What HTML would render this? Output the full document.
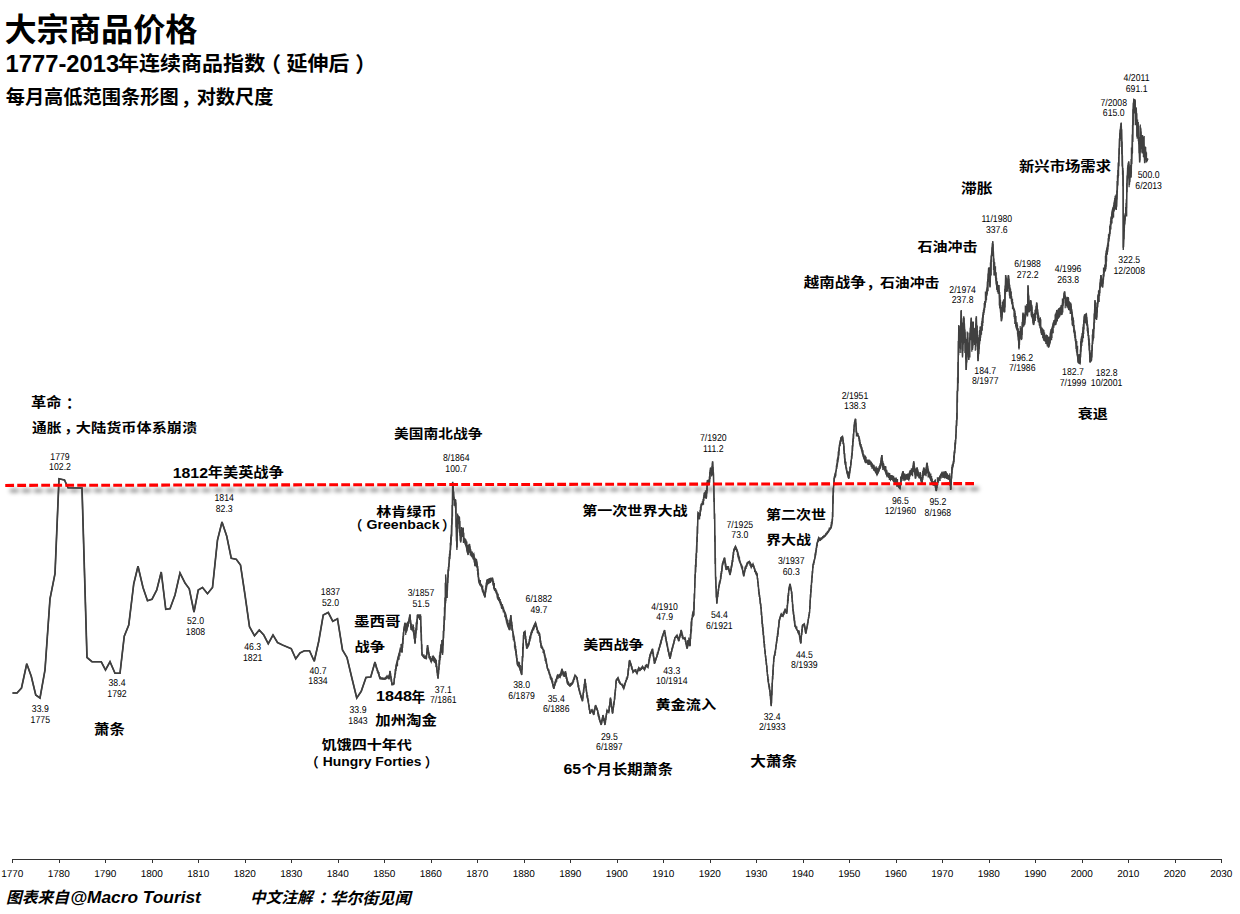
<!DOCTYPE html><html lang="zh"><head><meta charset="utf-8"><title>大宗商品价格</title><style>html,body{margin:0;padding:0;background:#fff}body{width:1240px;height:914px;position:relative;overflow:hidden}</style></head><body><svg width="1240" height="914" viewBox="0 0 1240 914" style="position:absolute;left:0;top:0">
<defs><filter id="sh" filterUnits="userSpaceOnUse" x="0" y="470" width="1000" height="40"><feGaussianBlur stdDeviation="1.9"/></filter></defs>
<line x1="9.95" y1="490.6" x2="978.7" y2="488.8" stroke="#000" stroke-opacity="0.5" stroke-width="3.2" stroke-dasharray="8.8 3.2" filter="url(#sh)"/>
<polyline points="12.5,693.0 17.0,693.0 21.5,688.0 26.75,663.75 31.25,676.25 35.75,695.0 40.0,698.0 45.0,670.0 50.0,598.75 55.0,573.75 59.0,478.75 64.5,480.0 68.0,487.75 82.0,488.0 87.0,657.5 92.0,661.75 101.25,661.75 105.5,670.0 110.0,661.75 115.0,673.25 120.0,673.25 124.25,636.25 128.75,625.0 133.75,583.75 138.0,566.25 143.0,587.5 147.5,600.75 152.0,599.25 156.75,590.0 161.25,572.0 165.75,609.25 170.0,608.75 175.0,595.0 180.0,573.0 185.0,583.0 189.25,588.75 194.0,612.0 198.25,590.0 202.5,587.5 207.5,593.75 212.5,587.5 217.5,540.0 222.0,522.0 226.75,536.25 231.25,558.25 236.25,559.25 240.5,565.0 245.0,595.0 249.5,626.75 254.5,635.75 259.25,630.0 263.75,635.0 268.25,643.75 273.0,635.0 277.5,642.5 282.5,645.0 291.25,648.75 295.75,658.75 300.0,653.0 304.5,650.75 309.5,650.75 314.25,661.25 318.75,641.25 323.25,615.0 328.25,612.5 332.75,621.25 337.5,618.75 342.5,650.0 347.0,657.5 351.75,677.5 356.75,698.0 361.25,691.25 366.0,677.5 370.75,677.0 375.0,662.0" fill="none" stroke="#404040" stroke-width="1.7" stroke-linejoin="miter" stroke-miterlimit="3"/>
<polyline points="12.5,693.0 17.0,693.0 21.5,688.0 26.75,663.75 31.25,676.25 35.75,695.0 40.0,698.0 45.0,670.0 50.0,598.75 55.0,573.75 59.0,478.75 64.5,480.0 68.0,487.75 82.0,488.0 87.0,657.5 92.0,661.75 101.25,661.75 105.5,670.0 110.0,661.75 115.0,673.25 120.0,673.25 124.25,636.25 128.75,625.0 133.75,583.75 138.0,566.25 143.0,587.5 147.5,600.75 152.0,599.25 156.75,590.0 161.25,572.0 165.75,609.25 170.0,608.75 175.0,595.0 180.0,573.0 185.0,583.0 189.25,588.75 194.0,612.0 198.25,590.0 202.5,587.5 207.5,593.75 212.5,587.5 217.5,540.0 222.0,522.0 226.75,536.25 231.25,558.25 236.25,559.25 240.5,565.0 245.0,595.0 249.5,626.75 254.5,635.75 259.25,630.0 263.75,635.0 268.25,643.75 273.0,635.0 277.5,642.5 282.5,645.0 291.25,648.75 295.75,658.75 300.0,653.0 304.5,650.75 309.5,650.75 314.25,661.25 318.75,641.25 323.25,615.0 328.25,612.5 332.75,621.25 337.5,618.75 342.5,650.0 347.0,657.5 351.75,677.5 356.75,698.0 361.25,691.25 366.0,677.5 370.75,677.0 375.0,662.0 380.0,678.75 385.0,679.25 387.0,675.75 389.0,679.25 390.0,670.75 392.0,685.0 393.75,684.5 396.25,665.0 398.75,655.0 400.5,648.75 402.0,652.5 403.75,630.0 405.0,622.5 406.25,632.5 408.0,625.0 410.0,614.25 411.25,630.0 413.0,626.25 415.0,643.75 417.5,615.0 420.5,615.0 422.0,655.0 424.25,658.0 426.25,658.75 427.5,645.0 429.5,657.5 431.25,662.0 433.25,656.25 435.75,660.0 438.0,678.75 440.0,655.0 441.25,643.75 442.5,655.0 444.5,617.5 445.75,597.5 445.62,574.38 446.88,598.0 448.12,573.75 450.0,555.0 451.25,538.75 452.25,512.5 452.75,481.88 454.0,498.75 455.62,500.0 456.25,527.5 456.88,550.0 457.5,525.0 458.12,515.62 459.38,517.5 460.0,532.5 460.62,542.5 461.88,532.5 463.12,527.5 463.75,540.0 465.62,540.0 466.88,550.0 468.12,555.0 469.38,543.75 470.62,552.5 471.88,556.25 473.75,553.75 475.0,566.25 476.25,558.75 477.5,566.25 478.75,581.25 480.0,585.0 481.25,585.0 483.25,592.5 485.0,597.5 487.0,580.0 490.0,578.75 492.5,578.0 494.5,590.0 496.25,591.25 498.75,600.0 501.25,603.75 503.75,610.0 505.5,613.75 507.5,625.0 509.5,630.0 510.75,615.0 512.5,630.0 514.5,641.25 516.25,655.0 517.5,665.0 519.5,667.5 521.75,675.0 523.75,632.5 525.0,631.25 526.75,648.75 528.75,645.0 531.25,632.5 533.75,626.25 535.5,622.5 537.5,630.0 539.5,633.75 541.25,647.5 543.75,650.0 545.75,660.0 547.5,668.75 550.0,675.0 551.75,680.0 553.75,688.75 555.5,682.5 557.5,675.0 560.0,677.5 562.0,668.75 563.75,676.25 565.5,671.25 567.5,683.75 570.0,686.25 572.5,683.75 575.0,675.0 577.0,677.5 578.75,688.75 581.25,697.5 582.5,701.25 585.0,678.75 587.0,695.0 588.75,705.0 590.0,713.75 592.0,710.0 593.75,715.0 595.5,705.0 597.5,710.0 599.5,720.0 601.25,725.0 603.0,715.0 605.0,725.0 607.0,710.0 608.75,712.5 610.5,697.5 612.5,713.75 614.5,700.0 616.25,680.0 618.0,677.5 620.0,683.75 622.0,685.0 623.75,688.75 625.5,682.5 627.5,677.5 629.5,660.0 631.25,665.0 633.0,672.5 635.0,670.0 637.0,673.75 638.75,667.5 640.5,670.0 642.5,666.25 644.5,670.0 646.25,665.0 648.0,667.5 650.0,655.0 652.5,648.75 654.5,663.75 657.0,656.25 659.5,647.5 662.0,637.5 664.5,630.0 666.25,640.0 668.0,650.0 670.0,658.75 672.5,647.5 675.0,637.5 677.0,635.0 678.75,641.25 681.25,630.0 683.0,638.75 685.0,637.5 687.0,648.75 688.75,642.5 690.0,646.25 691.75,618.75 693.75,615.0 695.0,580.0 697.0,540.0 698.0,512.5 700.0,515.0 701.25,505.0 703.0,502.5 704.5,492.5 706.25,498.75 707.5,480.0 709.25,483.75 710.5,467.5 711.75,473.75 712.5,461.25 713.5,475.0 714.5,515.0 715.5,575.0 716.75,603.75 718.75,587.5 720.5,580.0 722.5,563.75 724.5,557.5 726.25,570.0 728.0,566.25 730.0,575.0 732.0,565.0 733.75,550.0 735.5,546.25 737.5,551.25 739.5,561.25 741.75,566.25 743.75,576.25 745.5,567.5 747.5,562.5 749.5,561.25 751.25,567.5 753.0,563.75 755.0,570.0 757.0,573.75 758.75,590.0 760.75,605.0 762.5,625.0 764.5,647.5 766.25,662.5 768.0,680.0 770.0,692.5 771.25,706.25 772.5,680.0 773.75,658.75 775.5,650.0 777.5,636.25 779.25,620.0 781.25,613.75 783.0,616.25 785.0,610.0 786.75,613.75 788.75,590.0 790.0,583.75 791.75,592.5 793.0,610.0 795.0,626.25 797.0,630.0 798.75,631.25 800.75,643.75 802.5,625.0 804.25,623.75 805.75,633.75 807.5,625.0 809.5,612.5 811.25,586.25 813.0,565.0 815.0,557.5 817.0,543.75 818.75,537.5 820.5,540.0 822.5,537.5 825.0,536.25 827.5,532.5 829.5,530.0 831.25,527.5 832.5,520.0 833.25,490.0 834.25,477.5 836.25,470.0 838.0,460.0 839.5,445.0 841.0,437.5 842.5,436.25 843.75,445.0 845.0,462.5 847.0,472.5 848.75,478.75 850.5,467.5 852.0,455.0 853.25,437.5 854.5,422.5 855.5,418.75 856.75,435.0 858.75,436.25 860.0,443.75 862.0,450.0 863.75,457.5 865.5,462.5 867.5,461.25 869.5,463.75 871.25,462.5 873.0,466.25 875.0,470.0 877.0,475.0 878.75,471.25 880.5,465.0 881.75,455.0 883.0,465.0 885.0,470.0 887.0,476.25 888.75,473.75 890.5,480.0 892.5,476.25 894.5,481.25 896.25,478.75 898.0,486.25 900.0,488.75 901.25,477.5 903.0,471.25 905.0,480.0 907.0,477.5 908.75,480.0 910.5,470.0 912.0,475.0 913.75,461.25 915.5,478.75 917.0,467.5 918.75,475.0 920.5,478.75 922.0,483.75 923.75,467.5 925.5,473.75 927.0,462.5 928.75,475.0 930.5,478.75 932.5,483.75 934.5,481.25 936.25,491.25 938.0,480.0 940.0,476.25 942.0,472.5 943.75,477.5 945.5,471.25 947.5,477.5 949.5,476.25 950.75,490.0 952.0,470.0 953.75,462.5 955.5,442.5 957.0,417.5 957.0,405.0 958.0,375.0 958.75,325.0 960.0,342.5 961.25,310.0 962.5,357.5 963.75,316.25 965.0,335.0 966.25,370.0 967.5,340.0 968.75,360.0 970.0,335.0 971.25,317.5 972.5,350.0 973.75,330.0 975.0,345.0 976.25,316.25 978.0,361.25 979.5,342.5 981.25,330.0 983.0,315.0 985.0,305.0 987.0,292.5 988.75,267.5 990.0,287.5 991.25,257.5 992.75,241.25 994.0,265.0 995.5,275.0 997.0,290.0 998.75,285.0 1000.0,305.0 1001.5,321.25 1003.0,307.5 1004.5,312.5 1005.75,275.0 1007.0,287.5 1008.5,275.0 1010.0,295.0 1011.5,298.75 1013.0,307.5 1014.5,310.0 1016.0,325.0 1017.5,330.0 1018.5,340.0 1019.0,349.5 1019.5,340.0 1020.0,332.5 1021.5,340.0 1023.0,312.5 1024.5,325.0 1026.0,310.0 1027.5,315.0 1028.0,285.0 1029.25,310.0 1030.75,300.0 1032.0,315.0 1033.5,325.0 1035.0,317.5 1036.75,302.5 1038.25,317.5 1040.0,325.0 1041.75,335.0 1043.25,330.0 1045.0,341.25 1046.75,335.0 1048.5,347.5 1050.0,342.5 1051.75,330.0 1053.5,322.5 1055.0,325.0 1056.75,310.0 1058.5,317.5 1060.0,310.0 1061.75,315.0 1063.25,300.0 1064.5,291.25 1066.0,305.0 1067.5,297.5 1069.0,310.0 1070.5,302.5 1072.0,312.5 1073.5,325.0 1075.0,335.0 1076.75,350.0 1078.25,362.5 1080.0,363.75 1081.5,340.0 1083.0,330.0 1084.5,315.0 1086.25,313.75 1087.75,327.5 1089.0,342.5 1090.0,362.5 1091.5,360.0 1092.5,342.5 1093.75,330.0 1095.0,300.0 1096.5,320.0 1098.0,300.0 1099.5,290.0 1101.0,275.0 1102.5,287.5 1104.0,272.5 1105.5,270.0 1106.5,250.0 1108.0,245.0 1109.5,235.0 1111.0,220.0 1112.5,210.0 1114.0,205.0 1115.0,200.0 1116.25,210.0 1117.75,182.5 1118.75,160.0 1119.75,135.0 1120.62,127.5 1121.25,122.5 1121.88,142.5 1122.5,165.0 1123.12,180.0 1123.25,250.0 1124.5,225.0 1125.5,215.0 1126.5,207.5 1126.88,185.0 1127.75,167.5 1128.75,161.25 1129.38,185.0 1130.25,172.5 1131.0,177.5 1131.88,155.0 1132.5,138.75 1133.12,110.0 1133.75,99.38 1135.0,100.0 1135.62,121.25 1136.25,107.5 1137.25,138.75 1138.12,125.0 1139.0,145.0 1139.75,162.5 1140.62,127.5 1141.5,145.0 1142.5,135.0 1143.75,145.0 1144.75,163.12 1145.62,152.5 1146.88,161.25 1147.75,158.75" fill="none" stroke="#404040" stroke-width="1.35" stroke-linejoin="miter" stroke-miterlimit="3"/>
<path d="M375.5 662.8V666.5M375.9 664.1V667.7M376.2 665.4V668.6M376.6 666.7V669.0M377.0 668.0V671.1M377.4 668.7V672.5M377.8 669.8V672.5M378.2 670.9V673.9M378.6 672.1V674.7M379.0 672.0V676.0M379.3 673.9V677.3M379.7 676.0V678.6M380.1 675.9V678.8M380.5 677.1V678.8M380.9 676.9V678.9M381.3 677.8V678.9M381.7 677.5V678.9M382.0 677.8V679.3M382.4 677.3V679.3M382.8 677.7V679.4M383.2 677.9V679.4M383.6 677.4V679.3M384.0 677.7V679.3M384.4 677.7V679.2M384.8 678.2V679.2M385.1 677.2V679.3M385.5 676.9V679.5M385.9 676.8V678.5M386.3 676.5V679.2M386.7 675.9V678.7M387.1 675.9V678.3M387.5 676.0V677.9M387.9 675.8V678.1M388.2 675.4V678.7M388.6 675.9V679.0M389.0 674.8V679.1M389.4 673.8V679.3M389.8 670.9V676.1M390.2 671.2V675.0M390.6 673.1V677.7M391.0 675.9V680.7M391.3 677.2V682.0M391.7 679.2V684.7M392.1 682.6V685.0M392.5 682.4V684.9M392.9 682.5V684.8M393.3 683.9V684.7M393.7 682.2V684.6M394.1 678.1V683.9M394.4 676.4V680.9M394.8 673.5V677.9M395.2 669.1V675.0M395.6 668.0V673.7M396.0 665.2V671.0M396.4 663.6V669.1M396.8 662.0V665.5M397.2 660.5V666.4M397.5 658.7V666.1M397.9 657.3V661.5M398.3 655.7V659.6M398.7 654.3V660.1M399.1 653.0V659.5M399.5 651.3V654.7M399.9 649.8V656.2M400.2 647.5V652.5M400.6 647.9V652.0M401.0 644.1V650.6M401.4 647.1V651.6M401.8 646.3V652.1M402.2 642.8V652.4M402.6 638.3V648.1M403.0 636.1V643.9M403.3 632.2V639.8M403.7 628.7V636.2M404.1 626.4V631.2M404.5 624.0V630.5M404.9 623.1V627.8M405.3 622.9V629.5M405.7 625.9V635.1M406.1 623.3V632.3M406.4 629.2V632.2M406.8 623.5V631.0M407.2 622.6V629.3M407.6 621.6V627.7M408.0 622.9V627.0M408.4 621.6V626.0M408.8 619.6V623.6M409.2 617.5V621.7M409.5 615.5V621.2M409.9 614.6V620.0M410.3 615.3V624.0M410.7 620.2V628.2M411.1 622.8V629.8M411.5 625.9V630.0M411.9 624.1V630.4M412.3 626.6V630.2M412.6 626.4V630.8M413.0 626.5V632.1M413.4 624.6V633.2M413.8 627.0V635.3M414.2 629.9V638.7M414.6 633.3V642.1M415.0 637.4V643.4M415.4 632.7V642.4M415.7 628.3V637.9M416.1 622.4V633.5M416.5 621.4V630.3M416.9 619.2V630.3M417.3 615.0V624.3M417.7 615.0V617.9M418.1 615.0V617.5M418.5 615.0V616.8M418.8 615.0V618.4M419.2 615.0V616.9M419.6 615.0V620.0M420.0 615.0V617.5M420.4 615.0V620.2M420.8 616.1V632.5M421.2 626.4V640.8M421.5 634.5V649.2M421.9 644.3V655.2M422.3 652.2V655.7M422.7 654.6V656.3M423.1 654.6V656.8M423.5 654.6V657.3M423.9 654.2V657.8M424.3 655.6V658.1M424.6 657.2V658.2M425.0 656.1V658.4M425.4 656.1V658.5M425.8 655.3V658.7M426.2 655.9V658.7M426.6 651.7V658.5M427.0 648.3V654.9M427.4 645.6V651.5M427.7 645.1V648.9M428.1 647.5V653.5M428.5 649.9V654.0M428.9 652.3V658.2M429.3 654.0V658.6M429.7 656.1V658.6M430.1 656.3V659.6M430.5 656.3V660.6M430.8 657.8V661.6M431.2 659.9V661.9M431.6 658.6V661.6M432.0 657.9V660.5M432.4 655.7V660.1M432.8 656.9V659.8M433.2 656.5V661.0M433.6 656.4V659.8M433.9 656.9V662.3M434.3 657.5V660.7M434.7 658.1V663.1M435.1 658.7V662.6M435.5 659.3V664.0M435.9 659.8V667.2M436.3 660.1V666.8M436.7 663.4V669.4M437.0 665.9V672.7M437.4 670.1V675.9M437.8 672.8V678.2M438.2 671.8V678.5M438.6 667.5V674.5M439.0 660.0V669.9M439.4 655.6V665.3M439.7 655.1V664.4M440.1 651.7V660.2M440.5 648.2V658.1M440.9 644.7V652.7M441.3 644.2V650.9M441.7 640.0V649.8M442.1 646.6V653.2M442.5 644.3V654.6M442.8 639.2V652.8M443.2 630.8V645.6M443.6 624.9V638.3M444.0 616.3V631.1M444.4 607.3V624.5M444.8 597.6V620.2M445.2 582.7V606.6M445.6 576.8V603.3M445.9 590.9V601.0M446.3 594.8V598.1M446.7 591.7V597.9M447.1 585.2V598.0M447.5 578.0V590.5M447.9 569.6V583.1M448.3 566.8V577.4M448.7 563.5V571.3M449.0 556.7V566.9M449.4 553.8V563.0M449.8 550.6V559.1M450.2 542.7V555.3M450.6 536.8V550.3M451.0 534.6V545.3M451.4 525.3V540.2M451.8 518.3V536.4M452.1 504.9V524.6M452.5 482.0V516.6M452.9 484.1V491.8M453.3 486.2V496.5M453.7 491.4V500.2M454.1 496.7V505.7M454.5 498.9V503.1M454.9 499.2V506.0M455.2 499.5V507.4M455.6 499.8V513.4M456.0 502.4V527.3M456.4 518.4V541.2M456.8 532.9V546.7M457.2 521.7V547.4M457.6 513.4V531.8M458.0 515.7V528.8M458.3 515.8V519.9M458.7 516.2V524.2M459.1 516.8V521.3M459.5 517.3V533.0M459.9 521.1V535.8M460.3 529.9V540.7M460.7 536.4V542.2M461.0 534.2V540.9M461.4 527.0V537.9M461.8 530.2V535.8M462.2 529.9V537.1M462.6 528.7V533.8M463.0 528.0V532.4M463.4 527.9V542.9M463.8 532.7V541.8M464.1 537.5V542.3M464.5 538.4V542.7M464.9 538.0V544.6M465.3 539.1V542.2M465.7 539.4V545.9M466.1 540.5V547.2M466.5 542.7V548.6M466.9 541.6V550.8M467.2 544.7V552.4M467.6 549.3V554.0M468.0 551.3V554.6M468.4 545.0V554.5M468.8 546.2V552.7M469.2 544.0V551.3M469.6 544.1V550.0M470.0 546.2V553.2M470.3 548.6V555.4M470.7 549.0V554.3M471.1 550.6V556.3M471.5 552.8V556.4M471.9 551.7V556.3M472.3 551.6V557.0M472.7 553.4V558.4M473.1 554.2V559.5M473.4 553.9V557.4M473.8 554.0V560.2M474.2 555.6V562.5M474.6 557.1V564.6M475.0 558.7V566.1M475.4 558.3V566.2M475.8 560.3V564.9M476.2 559.3V563.4M476.5 559.1V567.3M476.9 561.4V567.8M477.3 563.7V570.9M477.7 566.1V574.7M478.1 568.8V577.3M478.5 572.8V580.7M478.9 577.5V582.3M479.2 579.2V583.4M479.6 580.7V584.6M480.0 580.1V585.0M480.4 579.9V585.0M480.8 583.6V586.6M481.2 583.7V586.9M481.6 584.6V588.2M482.0 586.3V589.8M482.3 587.0V591.5M482.7 585.6V592.1M483.1 589.3V592.8M483.5 591.2V593.9M483.9 590.5V595.0M484.3 592.4V596.1M484.7 594.1V597.2M485.1 592.0V597.0M485.4 588.2V595.6M485.8 585.6V592.3M486.2 582.4V590.1M486.6 581.4V588.5M487.0 579.9V586.4M487.4 579.7V585.0M487.8 579.6V584.4M488.2 579.4V582.2M488.5 579.3V583.4M488.9 579.0V584.1M489.3 578.2V583.1M489.7 578.0V581.6M490.1 578.1V580.8M490.5 577.8V583.1M490.9 578.4V580.1M491.3 578.3V581.6M491.6 578.2V580.6M492.0 578.1V581.7M492.4 578.0V580.9M492.8 578.4V584.7M493.2 580.7V586.1M493.6 581.2V588.3M494.0 584.1V589.0M494.4 583.1V590.1M494.7 588.7V590.3M495.1 588.9V590.9M495.5 587.9V592.5M495.9 589.0V592.0M496.3 590.2V594.0M496.7 590.6V594.6M497.1 592.3V597.6M497.4 593.7V598.5M497.8 593.6V599.5M498.2 593.8V599.9M498.6 597.1V600.5M499.0 597.5V601.0M499.4 597.3V601.7M499.8 600.1V603.6M500.2 599.1V603.5M500.5 601.1V605.6M500.9 601.4V605.1M501.3 602.5V607.8M501.7 603.9V609.0M502.1 603.9V607.7M502.5 604.4V608.4M502.9 606.0V610.6M503.3 607.3V612.4M503.6 607.7V611.6M504.0 609.6V612.3M504.4 610.4V613.7M504.8 611.6V617.3M505.2 612.6V615.4M505.6 613.4V618.6M506.0 614.7V620.4M506.4 615.8V622.4M506.7 617.3V622.5M507.1 618.7V624.2M507.5 619.8V625.6M507.9 620.3V626.6M508.3 624.1V627.6M508.7 622.8V628.5M509.1 627.0V629.5M509.5 624.8V629.9M509.8 619.9V630.2M510.2 618.5V629.2M510.6 615.8V622.1M511.0 615.2V624.1M511.4 618.5V626.1M511.8 621.8V630.5M512.2 625.1V631.0M512.6 628.5V633.1M512.9 631.0V637.5M513.3 633.0V640.2M513.7 634.5V640.0M514.1 636.4V641.7M514.5 639.5V647.4M514.9 641.7V649.2M515.3 644.7V651.1M515.7 645.9V652.9M516.0 649.1V655.6M516.4 650.8V658.3M516.8 654.6V661.4M517.2 658.1V664.5M517.6 661.7V665.4M518.0 661.8V665.9M518.4 661.5V666.4M518.7 662.0V666.9M519.1 661.7V667.3M519.5 662.5V668.4M519.9 665.7V669.6M520.3 664.9V670.9M520.7 669.0V672.2M521.1 670.4V673.5M521.5 669.5V674.8M521.8 666.0V674.5M522.2 656.0V669.7M522.6 646.9V661.4M523.0 643.3V657.5M523.4 635.1V648.4M523.8 632.2V639.4M524.2 631.8V633.9M524.6 631.5V635.1M524.9 631.3V635.7M525.3 632.2V639.1M525.7 636.1V642.7M526.1 639.1V645.5M526.5 641.2V648.5M526.9 644.9V648.5M527.3 644.3V648.2M527.7 643.4V647.5M528.0 643.2V646.8M528.4 644.1V646.0M528.8 641.7V645.3M529.2 639.1V643.9M529.6 636.8V642.0M530.0 635.4V640.7M530.4 635.3V638.8M530.8 633.8V638.6M531.1 632.2V635.1M531.5 631.2V635.2M531.9 630.3V632.6M532.3 629.3V633.2M532.7 628.3V631.3M533.1 627.4V629.4M533.5 626.4V630.6M533.9 625.5V629.6M534.2 624.7V628.8M534.6 623.9V627.5M535.0 623.0V625.9M535.4 622.7V625.2M535.8 622.7V626.9M536.2 624.2V627.4M536.6 625.6V629.7M536.9 627.1V630.2M537.3 628.1V632.9M537.7 629.7V633.6M538.1 630.7V633.7M538.5 631.4V633.3M538.9 632.2V635.9M539.3 632.9V634.8M539.7 633.6V638.1M540.0 636.1V642.6M540.4 637.6V643.3M540.8 640.6V646.0M541.2 643.1V647.7M541.6 646.3V648.1M542.0 645.5V648.5M542.4 646.8V648.9M542.8 647.5V649.8M543.1 649.1V652.9M543.5 649.6V652.2M543.9 649.9V654.2M544.3 651.6V656.2M544.7 653.6V657.5M545.1 655.5V660.9M545.5 656.9V661.3M545.9 657.8V662.2M546.2 658.8V664.1M546.6 661.6V665.6M547.0 663.7V667.5M547.4 665.6V669.1M547.8 667.8V670.1M548.2 668.4V671.0M548.6 669.7V672.2M549.0 669.4V673.4M549.3 671.7V675.0M549.7 672.6V675.5M550.1 674.0V678.2M550.5 675.1V678.7M550.9 676.2V680.0M551.3 677.5V680.4M551.7 677.9V681.8M552.1 677.7V682.7M552.4 680.6V684.0M552.8 680.8V685.7M553.2 684.0V687.4M553.6 685.1V688.5M554.0 684.9V688.7M554.4 684.1V687.3M554.8 681.4V686.0M555.2 681.7V684.6M555.5 679.6V683.2M555.9 679.3V683.3M556.3 678.6V681.3M556.7 677.1V681.7M557.1 675.7V678.7M557.5 675.1V679.2M557.9 675.1V677.9M558.2 675.5V678.8M558.6 675.0V677.4M559.0 674.1V677.0M559.4 675.3V677.1M559.8 673.7V677.4M560.2 673.5V677.5M560.6 673.1V676.5M561.0 672.0V675.6M561.3 670.6V675.7M561.7 668.9V672.8M562.1 669.2V671.9M562.5 669.9V673.9M562.9 671.6V675.0M563.3 671.3V676.3M563.7 672.2V675.9M564.1 673.5V676.2M564.4 673.4V677.1M564.8 672.5V676.7M565.2 671.4V674.5M565.6 671.6V676.8M566.0 672.9V678.7M566.4 675.3V679.1M566.8 676.8V681.6M567.2 678.4V683.0M567.5 679.8V684.0M567.9 681.3V684.4M568.3 681.2V684.8M568.7 682.2V685.2M569.1 684.0V685.6M569.5 683.6V686.0M569.9 684.3V686.2M570.3 684.6V686.2M570.6 683.1V685.8M571.0 683.0V685.5M571.4 682.5V685.1M571.8 683.4V684.7M572.2 681.7V684.3M572.6 681.9V683.9M573.0 679.8V682.9M573.4 678.9V682.1M573.7 678.6V681.8M574.1 677.2V679.9M574.5 675.9V679.8M574.9 675.2V677.3M575.3 675.1V676.5M575.7 675.6V677.0M576.1 676.0V677.4M576.4 676.5V678.8M576.8 677.0V679.8M577.2 677.5V682.6M577.6 679.9V684.3M578.0 682.4V686.9M578.4 684.3V688.1M578.8 685.1V689.6M579.2 687.9V691.0M579.5 689.6V692.4M579.9 690.5V693.7M580.3 692.8V695.1M580.7 693.6V696.4M581.1 695.1V697.7M581.5 695.6V698.9M581.9 697.7V700.1M582.3 698.9V701.2M582.6 697.0V701.0M583.0 692.4V698.6M583.4 689.6V695.1M583.8 687.4V693.1M584.2 683.9V688.8M584.6 680.4V686.5M585.0 679.0V683.4M585.4 679.8V684.6M585.7 682.9V688.0M586.1 686.0V691.5M586.5 689.2V693.9M586.9 692.3V697.4M587.3 694.9V698.7M587.7 695.3V700.2M588.1 698.2V702.4M588.5 699.7V704.6M588.8 703.5V707.3M589.2 705.1V710.0M589.6 708.5V712.7M590.0 711.1V713.7M590.4 711.8V713.5M590.8 710.6V712.7M591.2 709.2V712.0M591.6 709.8V711.5M591.9 709.6V711.4M592.3 709.9V712.1M592.7 709.5V712.7M593.1 710.7V713.8M593.5 712.4V714.9M593.9 712.3V714.7M594.3 709.2V713.4M594.6 708.3V712.0M595.0 706.3V709.9M595.4 705.4V708.0M595.8 705.2V708.1M596.2 706.2V708.7M596.6 707.1V710.3M597.0 708.1V710.3M597.4 709.1V711.1M597.7 710.1V714.3M598.1 712.0V716.5M598.5 713.0V716.7M598.9 714.2V718.2M599.3 716.0V720.1M599.7 717.6V721.2M600.1 719.6V722.3M600.5 720.8V723.4M600.8 722.4V724.5M601.2 723.2V725.0M601.6 719.8V724.2M602.0 718.4V722.6M602.4 717.1V720.7M602.8 715.1V718.3M603.2 715.4V719.2M603.6 716.6V721.1M603.9 717.9V720.9M604.3 718.3V722.8M604.7 720.8V724.8M605.1 721.4V724.4M605.5 718.9V723.0M605.9 715.6V720.1M606.3 713.3V717.6M606.7 710.9V715.0M607.0 710.1V713.2M607.4 710.3V712.7M607.8 710.3V712.8M608.2 710.2V712.1M608.6 710.5V712.3M609.0 706.2V712.5M609.4 705.2V711.0M609.8 701.9V707.0M610.1 698.6V704.2M610.5 697.7V701.4M610.9 699.0V704.8M611.3 702.1V708.0M611.7 703.4V709.0M612.1 706.9V712.2M612.5 710.6V713.4M612.9 707.8V712.9M613.2 706.3V710.3M613.6 702.2V707.6M614.0 700.9V705.0M614.4 696.5V702.3M614.8 692.6V699.4M615.2 689.6V695.6M615.6 685.2V691.2M615.9 680.8V687.9M616.3 679.5V683.8M616.7 679.0V680.6M617.1 678.4V680.6M617.5 677.9V680.7M617.9 677.7V679.6M618.3 677.6V680.7M618.7 678.8V681.4M619.0 680.0V683.1M619.4 680.7V683.1M619.8 681.4V683.8M620.2 681.5V684.0M620.6 683.3V684.3M621.0 683.4V684.7M621.4 683.7V684.9M621.8 683.9V685.3M622.1 683.5V685.9M622.5 684.9V686.6M622.9 684.4V687.5M623.3 685.5V688.3M623.7 687.2V688.6M624.1 684.9V688.4M624.5 683.1V687.0M624.9 683.1V685.6M625.2 681.8V684.3M625.6 680.3V682.9M626.0 679.8V681.8M626.4 677.6V680.8M626.8 677.4V679.9M627.2 676.0V678.9M627.6 673.8V677.9M628.0 669.5V675.7M628.3 668.1V674.5M628.7 664.7V670.8M629.1 661.3V667.0M629.5 660.0V662.7M629.9 660.4V663.5M630.3 661.6V664.5M630.7 662.7V666.0M631.1 663.8V666.8M631.4 664.9V668.5M631.8 666.0V669.5M632.2 667.5V670.1M632.6 668.9V671.8M633.0 669.4V672.4M633.4 670.2V672.3M633.8 670.0V671.8M634.1 669.9V671.4M634.5 669.7V671.3M634.9 669.9V671.3M635.3 669.4V671.7M635.7 669.1V671.9M636.1 669.4V672.5M636.5 671.8V673.2M636.9 671.2V673.5M637.2 671.0V673.7M637.6 670.0V672.3M638.0 668.7V671.4M638.4 667.9V670.7M638.8 667.6V669.9M639.2 667.8V669.4M639.6 668.3V671.2M640.0 668.2V670.3M640.3 668.1V669.9M640.7 667.8V670.0M641.1 667.5V669.5M641.5 667.3V670.1M641.9 667.0V669.1M642.3 666.3V668.9M642.7 666.4V668.1M643.1 666.8V668.9M643.4 666.9V668.9M643.8 666.9V669.2M644.2 668.1V669.9M644.6 666.9V669.8M645.0 666.4V669.3M645.4 665.0V668.3M645.8 665.0V667.9M646.2 665.1V666.7M646.5 664.7V666.1M646.9 664.0V666.3M647.3 665.6V666.9M647.7 665.4V667.4M648.1 664.8V667.3M648.5 662.4V666.0M648.9 659.3V663.5M649.3 656.9V661.4M649.6 655.8V660.5M650.0 654.4V658.3M650.4 653.4V656.5M650.8 652.4V655.5M651.2 651.4V654.1M651.6 650.5V653.6M652.0 649.5V652.0M652.3 649.1V651.5M652.7 648.8V654.0M653.1 651.7V656.4M653.5 653.4V658.3M653.9 656.4V661.0M654.3 658.3V663.7M654.7 660.8V663.3M655.1 659.1V662.8M655.4 658.4V661.6M655.8 657.4V660.4M656.2 657.3V659.3M656.6 655.7V658.1M657.0 653.7V657.0M657.4 652.3V655.7M657.8 651.9V654.7M658.2 650.5V653.2M658.5 648.4V651.8M658.9 647.6V650.8M659.3 646.5V649.4M659.7 644.6V648.1M660.1 643.7V646.8M660.5 641.7V644.9M660.9 640.3V644.4M661.3 639.4V643.3M661.6 638.0V640.6M662.0 636.7V640.6M662.4 635.5V637.7M662.8 634.4V637.3M663.2 633.2V635.9M663.6 632.1V634.0M664.0 630.9V633.6M664.4 630.4V633.4M664.7 630.1V633.9M665.1 632.3V636.9M665.5 634.5V638.9M665.9 636.7V641.6M666.3 638.9V643.2M666.7 641.1V645.2M667.1 642.7V646.4M667.5 644.5V648.2M667.8 646.5V650.3M668.2 648.5V652.0M668.6 649.4V653.7M669.0 651.8V655.4M669.4 653.5V657.1M669.8 655.8V658.7M670.2 656.0V658.4M670.6 653.1V657.3M670.9 651.5V655.6M671.3 651.1V653.8M671.7 648.4V652.1M672.1 647.5V650.3M672.5 645.9V648.9M672.9 644.7V648.3M673.3 643.5V646.2M673.6 642.0V644.5M674.0 640.4V644.5M674.4 638.9V642.3M674.8 637.4V640.9M675.2 637.0V638.3M675.6 636.5V637.7M676.0 636.0V638.0M676.4 635.5V638.0M676.7 635.0V637.1M677.1 635.1V637.1M677.5 635.3V638.8M677.9 636.5V639.1M678.3 637.7V640.5M678.7 638.4V641.0M679.1 636.9V640.9M679.5 635.9V639.1M679.8 634.6V638.1M680.2 633.5V637.1M680.6 631.8V635.5M681.0 630.1V633.9M681.4 630.4V632.9M681.8 631.5V635.9M682.2 633.4V637.9M682.6 634.6V638.2M682.9 635.5V638.6M683.3 637.6V638.7M683.7 637.5V638.7M684.1 637.9V639.6M684.5 637.7V640.1M684.9 637.6V639.5M685.3 637.7V641.9M685.7 639.4V643.8M686.0 641.0V644.7M686.4 643.6V646.8M686.8 644.6V648.6M687.2 642.8V648.6M687.6 640.3V647.5M688.0 639.9V646.1M688.4 640.4V644.7M688.8 637.4V643.3M689.1 639.6V644.4M689.5 641.5V645.5M689.9 638.5V646.0M690.3 634.0V645.2M690.7 629.2V639.1M691.1 621.5V633.5M691.5 619.1V631.6M691.8 618.1V626.2M692.2 614.5V619.7M692.6 612.3V617.5M693.0 610.7V616.8M693.4 612.0V616.1M693.8 601.8V615.4M694.2 593.6V609.7M694.6 582.9V598.8M694.9 574.2V588.0M695.3 564.8V578.1M695.7 559.1V572.5M696.1 553.2V567.1M696.5 545.4V558.1M696.9 536.8V552.7M697.3 526.2V542.0M697.7 515.5V533.8M698.0 512.6V519.5M698.4 512.8V518.9M698.8 513.2V519.6M699.2 513.7V519.6M699.6 514.2V519.2M700.0 509.8V515.9M700.4 507.0V515.4M700.8 505.7V511.6M701.1 503.8V510.1M701.5 503.2V506.6M701.9 503.2V505.5M702.3 501.3V504.9M702.7 501.3V505.3M703.1 499.1V504.4M703.5 497.2V504.7M703.9 495.3V501.0M704.2 492.7V497.9M704.6 493.0V497.9M705.0 492.1V497.6M705.4 490.2V496.6M705.8 493.5V497.9M706.2 491.1V498.5M706.6 487.9V497.5M707.0 481.9V493.4M707.3 480.2V490.7M707.7 480.1V485.1M708.1 480.8V485.4M708.5 479.6V484.1M708.9 480.0V483.5M709.3 476.6V483.4M709.7 472.1V482.8M710.1 470.3V478.9M710.4 468.3V474.5M710.8 468.0V473.4M711.2 469.9V474.4M711.6 471.8V476.6M712.0 465.9V475.6M712.4 462.7V470.1M712.8 461.6V470.4M713.1 467.0V475.5M713.5 472.3V486.5M713.9 482.6V501.9M714.3 498.1V519.1M714.7 513.6V541.7M715.1 535.4V564.0M715.5 558.0V579.7M715.9 576.8V588.6M716.2 585.9V597.5M716.6 594.9V602.8M717.0 598.5V603.4M717.4 594.6V600.3M717.8 591.6V597.1M718.2 588.7V594.0M718.6 585.6V590.9M719.0 583.6V587.7M719.3 581.8V586.0M719.7 580.8V584.3M720.1 579.7V582.6M720.5 575.5V581.0M720.9 572.9V579.0M721.3 571.1V576.6M721.7 568.6V574.0M722.1 565.5V571.4M722.4 563.2V568.3M722.8 562.0V565.5M723.2 560.8V564.6M723.6 559.6V562.8M724.0 558.4V560.5M724.4 557.9V560.5M724.8 557.7V563.6M725.2 560.5V566.5M725.5 562.3V567.6M725.9 563.6V569.4M726.3 567.1V569.9M726.7 567.1V569.5M727.1 565.9V568.7M727.5 566.2V568.7M727.9 566.5V569.8M728.3 566.3V570.1M728.6 566.6V570.8M729.0 568.2V571.8M729.4 569.7V573.4M729.8 570.6V574.8M730.2 570.3V574.8M730.6 569.1V573.3M731.0 566.3V571.4M731.3 565.2V569.4M731.7 562.5V567.5M732.1 560.0V565.5M732.5 557.7V562.8M732.9 555.3V561.9M733.3 552.0V558.0M733.7 549.7V554.9M734.1 548.8V551.8M734.4 548.0V551.1M734.8 547.2V549.3M735.2 546.3V550.1M735.6 546.5V549.2M736.0 546.9V549.0M736.4 547.9V550.4M736.8 548.8V552.3M737.2 549.8V551.8M737.5 550.8V555.3M737.9 552.2V557.2M738.3 553.5V558.6M738.7 554.8V558.8M739.1 556.2V560.4M739.5 557.2V561.7M739.9 559.8V562.6M740.3 561.2V563.7M740.6 562.5V565.1M741.0 563.6V566.6M741.4 564.3V567.8M741.8 564.8V568.6M742.2 566.2V569.6M742.6 566.6V571.6M743.0 570.2V573.5M743.4 570.7V575.4M743.7 572.5V576.2M744.1 571.4V575.5M744.5 570.4V573.6M744.9 567.5V571.6M745.3 566.3V570.0M745.7 566.2V568.8M746.1 565.5V569.0M746.5 564.5V566.6M746.8 563.6V567.0M747.2 562.6V565.7M747.6 562.3V564.3M748.0 562.0V564.2M748.4 561.8V563.5M748.8 561.6V562.9M749.2 561.3V563.0M749.5 561.4V563.2M749.9 562.0V565.8M750.3 561.9V565.7M750.7 563.9V566.4M751.1 563.4V567.3M751.5 565.0V567.5M751.9 563.8V566.7M752.3 564.1V567.0M752.6 564.0V566.4M753.0 563.9V565.3M753.4 564.3V567.1M753.8 565.6V568.5M754.2 566.8V569.6M754.6 568.0V572.3M755.0 569.2V571.7M755.4 570.2V571.9M755.7 571.0V574.4M756.1 571.7V573.6M756.5 572.4V575.4M756.9 573.1V576.1M757.3 574.3V579.5M757.7 577.9V583.0M758.1 581.5V586.7M758.5 585.1V591.3M758.8 588.7V594.6M759.2 591.9V596.9M759.6 594.8V599.8M760.0 597.7V603.7M760.4 600.6V605.6M760.8 603.5V608.7M761.2 607.1V615.2M761.6 611.5V618.5M761.9 616.0V624.0M762.3 620.2V627.4M762.7 623.8V631.2M763.1 627.3V634.9M763.5 631.6V638.8M763.9 635.4V643.1M764.3 640.9V647.5M764.7 643.9V650.8M765.0 649.3V654.1M765.4 650.8V657.5M765.8 655.5V661.1M766.2 658.7V664.7M766.6 662.7V668.7M767.0 665.6V672.1M767.4 669.9V676.0M767.8 674.3V679.8M768.1 676.8V682.3M768.5 679.0V684.7M768.9 683.2V687.2M769.3 684.5V689.6M769.7 686.4V692.0M770.1 689.8V695.9M770.5 693.6V700.1M770.8 698.2V704.4M771.2 699.2V706.1M771.6 690.8V703.3M772.0 682.7V695.2M772.4 676.1V687.0M772.8 669.7V679.4M773.2 664.6V675.1M773.6 658.5V666.8M773.9 656.6V662.0M774.3 654.7V658.6M774.7 652.7V656.0M775.1 650.8V655.8M775.5 648.4V652.9M775.9 644.4V649.5M776.3 641.5V646.5M776.7 638.8V643.6M777.0 636.2V641.0M777.4 633.3V638.3M777.8 630.6V637.0M778.2 627.5V634.6M778.6 623.9V629.6M779.0 620.3V627.5M779.4 618.9V623.3M779.8 617.7V620.6M780.1 616.5V619.3M780.5 615.3V617.5M780.9 614.1V616.8M781.3 613.8V616.1M781.7 614.0V616.0M782.1 614.4V616.9M782.5 614.1V616.3M782.9 614.2V616.0M783.2 612.4V616.2M783.6 611.6V615.2M784.0 611.8V614.7M784.4 610.3V613.2M784.8 609.5V612.6M785.2 608.5V611.2M785.6 608.8V611.7M786.0 610.8V612.5M786.3 610.9V613.4M786.7 610.0V613.7M787.1 604.9V612.2M787.5 599.5V607.6M787.9 595.3V603.4M788.3 592.9V601.1M788.7 589.3V596.1M789.0 587.3V590.8M789.4 585.4V589.9M789.8 584.0V586.5M790.2 583.9V587.4M790.6 585.6V588.9M791.0 587.5V590.7M791.4 589.5V593.9M791.8 591.4V598.2M792.1 594.8V602.1M792.5 600.2V607.5M792.9 604.2V611.3M793.3 609.2V614.4M793.7 611.6V617.5M794.1 614.8V620.7M794.5 617.4V623.8M794.9 620.4V626.4M795.2 625.3V627.1M795.6 624.7V627.9M796.0 626.1V628.6M796.4 626.6V629.3M796.8 626.5V630.0M797.2 629.2V631.0M797.6 630.1V632.5M798.0 630.5V633.5M798.3 630.8V632.5M798.7 631.1V634.5M799.1 630.6V635.1M799.5 632.8V637.4M799.9 635.7V639.8M800.3 638.1V642.3M800.7 639.7V643.2M801.1 635.3V643.0M801.4 632.9V638.8M801.8 629.0V635.0M802.2 625.6V632.3M802.6 624.8V628.1M803.0 624.5V626.3M803.4 624.2V626.5M803.8 623.9V625.9M804.2 623.8V625.5M804.5 624.1V628.1M804.9 625.5V629.8M805.3 627.4V632.4M805.7 630.7V633.4M806.1 629.0V633.2M806.5 627.5V631.3M806.9 626.2V629.3M807.2 623.5V627.4M807.6 621.7V625.5M808.0 619.2V623.2M808.4 617.0V620.8M808.8 614.4V618.3M809.2 612.1V615.9M809.6 606.0V613.5M810.0 599.7V609.1M810.3 594.3V603.3M810.7 589.0V597.6M811.1 585.0V592.5M811.5 580.3V587.8M811.9 575.6V582.7M812.3 570.9V577.8M812.7 566.2V573.4M813.1 563.9V568.2M813.4 562.5V565.1M813.8 561.0V565.0M814.2 559.6V563.3M814.6 557.7V560.5M815.0 553.6V558.6M815.4 551.9V556.9M815.8 549.9V555.5M816.2 548.0V552.4M816.5 545.3V550.2M816.9 543.2V547.8M817.3 541.8V545.9M817.7 540.4V543.0M818.1 539.0V541.7M818.5 537.6V541.9M818.9 537.7V540.8M819.3 537.9V540.1M819.6 538.4V540.1M820.0 537.9V541.0M820.4 537.5V540.0M820.8 537.5V539.9M821.2 538.0V539.5M821.6 537.8V539.4M822.0 537.1V539.4M822.4 537.0V538.6M822.7 536.1V538.6M823.1 536.3V538.5M823.5 536.1V537.6M823.9 535.0V538.0M824.3 534.8V537.1M824.7 534.8V536.7M825.1 535.1V536.6M825.5 533.9V536.1M825.8 532.9V535.8M826.2 532.7V535.1M826.6 532.5V534.8M827.0 532.2V534.1M827.4 531.1V534.3M827.8 531.0V533.2M828.2 530.3V532.7M828.5 530.5V532.2M828.9 528.7V531.6M829.3 527.4V530.5M829.7 528.0V530.0M830.1 528.0V529.5M830.5 527.1V528.9M830.9 524.4V528.4M831.3 522.0V527.8M831.6 521.6V526.5M832.0 518.8V524.2M832.4 512.1V521.9M832.8 495.5V517.0M833.2 487.8V503.7M833.6 482.9V492.5M834.0 478.1V485.4M834.4 476.2V481.6M834.7 474.8V478.5M835.1 473.3V477.6M835.5 471.9V477.5M835.9 470.4V475.7M836.3 465.4V471.2M836.7 463.5V468.9M837.1 459.4V466.7M837.5 458.0V464.4M837.8 456.7V462.2M838.2 451.5V460.0M838.6 450.6V458.6M839.0 447.6V455.4M839.4 444.4V451.1M839.8 442.4V446.4M840.2 440.5V445.9M840.6 438.6V443.9M840.9 437.4V441.6M841.3 437.0V441.8M841.7 436.7V439.0M842.1 436.4V440.6M842.5 436.3V440.6M842.9 437.3V444.1M843.3 440.0V444.6M843.7 442.7V450.4M844.0 445.8V454.0M844.4 450.6V458.6M844.8 453.3V462.7M845.2 458.6V464.7M845.6 460.9V466.6M846.0 461.9V468.5M846.4 467.0V470.5M846.7 467.8V472.4M847.1 470.4V473.8M847.5 471.0V475.2M847.9 472.0V476.6M848.3 473.6V478.0M848.7 474.8V478.5M849.1 470.9V478.2M849.5 471.3V475.7M849.8 466.4V473.2M850.2 466.4V470.7M850.6 461.7V468.2M851.0 459.7V465.2M851.4 455.7V462.0M851.8 452.7V458.7M852.2 445.3V455.5M852.6 441.1V450.9M852.9 438.5V446.5M853.3 433.7V441.7M853.7 429.1V438.7M854.1 424.4V432.3M854.5 421.7V427.0M854.9 420.2V425.1M855.3 418.8V422.1M855.7 419.0V425.4M856.0 422.8V432.5M856.4 427.7V436.4M856.8 431.7V435.2M857.2 433.6V435.4M857.6 434.2V435.7M858.0 432.9V436.9M858.4 434.7V437.0M858.8 436.1V439.1M859.1 436.9V441.6M859.5 438.1V444.0M859.9 439.5V445.5M860.3 442.3V447.0M860.7 444.1V447.5M861.1 444.0V449.3M861.5 446.3V450.7M861.9 447.1V452.3M862.2 448.6V453.7M862.6 450.6V454.9M863.0 450.3V456.6M863.4 453.7V457.5M863.8 454.1V458.4M864.2 455.2V459.4M864.6 455.5V460.5M865.0 455.4V461.6M865.3 455.5V462.5M865.7 456.6V462.5M866.1 456.9V462.6M866.5 459.6V463.2M866.9 460.2V463.3M867.3 459.6V462.7M867.7 459.4V464.0M868.0 460.0V464.9M868.4 459.4V463.8M868.8 461.3V464.1M869.2 459.4V465.0M869.6 460.4V464.5M870.0 460.3V464.6M870.4 461.2V464.3M870.8 461.5V465.6M871.1 462.3V466.8M871.5 462.4V466.9M871.9 463.2V468.7M872.3 463.4V467.4M872.7 464.1V468.4M873.1 465.1V468.8M873.5 464.9V470.0M873.9 464.8V471.1M874.2 465.6V470.1M874.6 466.8V471.0M875.0 468.1V471.8M875.4 467.5V472.5M875.8 468.5V472.9M876.2 466.3V473.5M876.6 467.6V474.5M877.0 470.0V474.9M877.3 467.7V474.8M877.7 468.2V473.9M878.1 469.8V473.1M878.5 468.8V472.3M878.9 466.4V471.4M879.3 465.9V470.5M879.7 465.0V469.6M880.1 463.6V469.0M880.4 462.9V468.2M880.8 460.5V466.5M881.2 457.4V465.5M881.6 455.7V462.5M882.0 455.1V463.8M882.4 458.2V467.8M882.8 461.2V470.1M883.2 463.5V469.1M883.5 463.1V469.6M883.9 464.2V468.6M884.3 466.6V470.4M884.7 466.0V470.8M885.1 467.8V471.6M885.5 466.0V472.7M885.9 466.6V473.6M886.2 469.4V474.7M886.6 469.7V475.8M887.0 470.6V476.2M887.4 473.8V476.3M887.8 473.6V476.4M888.2 472.6V477.5M888.6 473.5V478.1M889.0 473.2V477.3M889.3 472.9V479.7M889.7 473.1V480.0M890.1 474.8V479.7M890.5 475.6V480.0M890.9 475.2V479.9M891.3 475.1V479.6M891.7 475.1V479.2M892.1 476.1V480.0M892.4 476.3V479.4M892.8 475.9V481.3M893.2 476.1V480.7M893.6 475.7V482.0M894.0 478.3V482.6M894.4 477.6V482.3M894.8 477.4V483.2M895.2 477.6V483.3M895.5 478.6V481.5M895.9 478.9V484.4M896.3 479.0V485.0M896.7 479.7V486.8M897.1 480.1V485.9M897.5 478.9V486.2M897.9 482.7V486.4M898.3 483.1V486.9M898.6 482.7V487.3M899.0 483.2V487.8M899.4 482.8V488.3M899.8 484.4V488.5M900.2 483.1V488.7M900.6 476.7V485.6M901.0 476.5V483.5M901.4 476.3V481.7M901.7 474.9V480.5M902.1 473.5V480.8M902.5 472.2V479.1M902.9 471.6V474.9M903.3 471.5V477.6M903.7 473.2V480.7M904.1 474.3V480.1M904.4 473.5V480.2M904.8 473.5V479.9M905.2 474.4V480.0M905.6 474.9V479.5M906.0 476.6V479.5M906.4 474.1V479.4M906.8 475.4V479.4M907.2 474.9V479.8M907.5 473.5V479.1M907.9 475.8V479.2M908.3 473.6V479.7M908.7 475.9V479.9M909.1 472.7V479.3M909.5 471.8V479.1M909.9 471.1V477.1M910.3 470.1V475.7M910.6 470.5V475.2M911.0 470.0V474.9M911.4 468.2V474.6M911.8 471.7V474.7M912.2 469.9V475.2M912.6 467.8V476.2M913.0 465.6V471.5M913.4 462.5V472.2M913.7 461.3V469.0M914.1 462.7V470.2M914.5 466.1V473.5M914.9 467.8V475.1M915.3 471.3V478.6M915.7 472.9V478.2M916.1 468.8V476.2M916.5 467.8V474.2M916.8 467.8V475.2M917.2 467.5V473.2M917.6 469.1V476.4M918.0 470.8V475.5M918.4 472.4V476.1M918.8 473.4V478.2M919.2 473.6V477.6M919.6 473.7V478.2M919.9 472.1V478.3M920.3 472.0V478.9M920.7 473.3V480.2M921.1 478.0V481.5M921.5 477.0V482.8M921.9 478.1V483.3M922.3 474.9V483.5M922.7 470.8V479.9M923.0 470.7V478.3M923.4 468.4V476.0M923.8 467.7V474.2M924.2 468.3V475.4M924.6 469.6V473.1M925.0 470.0V475.5M925.4 469.0V473.7M925.7 468.9V475.3M926.1 467.2V476.2M926.5 464.3V473.7M926.9 463.2V469.2M927.3 463.0V470.7M927.7 465.7V473.3M928.1 468.5V477.4M928.5 469.7V477.5M928.8 471.1V476.6M929.2 471.7V477.5M929.6 472.2V477.6M930.0 474.8V478.6M930.4 474.4V479.7M930.8 473.6V480.7M931.2 476.0V481.5M931.6 475.9V482.2M931.9 479.0V483.0M932.3 478.5V483.8M932.7 482.0V484.1M933.1 481.4V485.7M933.5 481.3V484.5M933.9 481.4V484.7M934.3 481.3V485.9M934.7 481.0V485.9M935.0 480.5V486.3M935.4 479.3V487.9M935.8 483.4V490.1M936.2 486.7V491.0M936.6 482.7V490.5M937.0 482.4V488.1M937.4 477.3V485.6M937.8 478.7V485.2M938.1 478.1V482.5M938.5 477.9V482.7M938.9 477.3V480.6M939.3 476.9V480.8M939.7 476.0V480.3M940.1 475.4V481.1M940.5 474.8V478.6M940.9 474.1V478.1M941.2 473.5V478.6M941.6 472.8V475.7M942.0 472.5V476.6M942.4 472.5V475.7M942.8 472.3V477.9M943.2 473.2V477.6M943.6 474.7V477.3M943.9 471.3V477.4M944.3 472.7V477.1M944.7 471.8V478.6M945.1 471.8V476.5M945.5 471.3V478.2M945.9 471.7V475.4M946.3 472.6V476.3M946.7 472.9V478.9M947.0 473.1V478.6M947.4 473.7V478.3M947.8 474.7V479.0M948.2 475.4V480.1M948.6 474.8V479.0M949.0 475.2V479.6M949.4 474.8V478.9M949.8 473.2V481.6M950.1 479.0V485.9M950.5 480.2V489.8M950.9 480.1V489.3M951.3 475.7V484.8M951.7 466.7V478.6M952.1 464.8V473.6M952.5 464.1V469.7M952.9 462.6V467.3M953.2 460.7V465.7M953.6 455.5V464.0M954.0 451.4V462.1M954.4 450.1V457.7M954.8 442.6V453.2M955.2 439.7V448.8M955.6 434.4V444.4M956.0 425.6V438.8M956.3 420.2V432.4M956.7 412.8V425.9M957.1 390.8V419.4M957.5 377.6V402.5M957.9 361.9V391.3M958.3 341.0V383.3M958.7 327.1V355.2M959.1 326.0V339.4M959.4 331.4V342.8M959.8 336.8V348.4M960.2 330.9V353.1M960.6 320.8V349.6M961.0 310.8V336.8M961.4 312.8V333.9M961.8 318.3V342.8M962.1 322.0V353.0M962.5 331.9V356.3M962.9 331.3V351.2M963.3 323.1V344.5M963.7 317.9V338.4M964.1 317.8V339.3M964.5 323.6V343.0M964.9 329.4V353.1M965.2 332.3V352.9M965.6 337.5V359.3M966.0 351.9V369.9M966.4 347.8V368.0M966.8 339.1V362.5M967.2 331.5V354.5M967.6 337.0V354.5M968.0 332.6V352.3M968.3 345.3V357.2M968.7 345.8V359.7M969.1 342.6V357.2M969.5 337.4V353.1M969.9 332.8V357.5M970.3 327.8V339.0M970.7 322.4V339.0M971.1 318.5V340.2M971.4 318.0V337.1M971.8 326.6V351.7M972.2 322.1V349.7M972.6 334.8V348.3M973.0 321.3V345.8M973.4 321.9V342.4M973.8 328.0V338.7M974.2 329.2V341.6M974.5 329.9V345.0M974.9 328.2V344.1M975.3 327.5V350.8M975.7 323.5V346.4M976.1 318.1V340.6M976.5 316.4V343.6M976.9 326.1V342.5M977.3 325.5V350.1M977.6 330.7V358.0M978.0 347.1V360.9M978.4 339.0V359.0M978.8 337.2V354.1M979.2 334.8V349.3M979.6 330.1V344.5M980.0 326.4V340.9M980.4 331.0V340.8M980.7 327.6V337.7M981.1 326.1V335.0M981.5 322.9V334.6M981.9 321.0V330.7M982.3 317.6V330.7M982.7 314.8V326.1M983.1 312.0V323.1M983.4 310.0V317.6M983.8 308.6V315.0M984.2 303.1V312.8M984.6 301.3V310.3M985.0 301.0V307.8M985.4 291.6V305.1M985.8 293.9V302.8M986.2 291.5V300.2M986.5 289.5V299.9M986.9 287.5V295.8M987.3 281.6V294.3M987.7 279.1V290.6M988.1 273.5V291.2M988.5 268.0V280.2M988.9 269.1V276.5M989.3 267.3V282.0M989.6 271.3V285.5M990.0 271.7V286.7M990.4 262.6V283.0M990.8 259.8V275.3M991.2 255.6V275.5M991.6 251.4V261.9M992.0 247.2V255.7M992.4 243.0V252.6M992.7 241.3V256.3M993.1 244.1V256.0M993.5 251.4V269.9M993.9 258.6V275.6M994.3 261.8V273.5M994.7 262.2V273.9M995.1 267.1V275.8M995.5 266.3V277.9M995.8 273.1V280.7M996.2 272.2V284.6M996.6 277.8V288.5M997.0 284.9V290.0M997.4 281.3V292.0M997.8 285.6V292.6M998.2 286.0V293.9M998.6 285.5V291.2M998.9 285.1V294.1M999.3 290.5V305.6M999.7 291.9V308.2M1000.1 294.8V308.6M1000.5 299.8V312.8M1000.9 307.1V317.0M1001.3 310.3V321.2M1001.6 310.2V320.3M1002.0 305.3V318.5M1002.4 301.9V314.9M1002.8 301.6V311.4M1003.2 300.4V308.9M1003.6 299.2V310.2M1004.0 307.6V311.5M1004.4 302.9V312.0M1004.7 288.7V312.1M1005.1 285.5V307.6M1005.5 275.0V294.3M1005.9 276.6V285.2M1006.3 278.1V291.3M1006.7 282.0V291.9M1007.1 284.9V289.4M1007.5 281.7V291.6M1007.8 278.5V288.8M1008.2 275.3V284.9M1008.6 275.9V284.1M1009.0 278.7V292.3M1009.4 283.4V295.5M1009.8 284.7V298.4M1010.2 287.4V296.4M1010.6 288.7V298.4M1010.9 291.2V298.7M1011.3 291.5V301.4M1011.7 296.3V303.7M1012.1 298.7V304.6M1012.5 298.7V308.9M1012.9 301.9V309.1M1013.3 305.5V310.1M1013.7 307.2V311.1M1014.0 308.4V317.1M1014.4 309.5V318.7M1014.8 310.7V324.1M1015.2 313.0V321.7M1015.6 315.7V326.3M1016.0 316.0V327.7M1016.4 323.3V328.9M1016.8 324.8V330.0M1017.1 322.3V330.8M1017.5 324.6V334.3M1017.9 328.7V336.5M1018.3 328.2V340.6M1018.7 335.8V348.0M1019.1 336.2V348.1M1019.5 331.0V345.1M1019.9 330.7V338.6M1020.2 326.1V335.6M1020.6 328.0V336.8M1021.0 331.7V338.7M1021.4 330.3V339.5M1021.8 326.9V339.0M1022.2 321.9V335.0M1022.6 316.3V327.9M1022.9 313.5V323.5M1023.3 313.4V325.1M1023.7 316.6V326.7M1024.1 315.5V325.8M1024.5 314.2V325.0M1024.9 312.5V323.5M1025.3 305.5V319.6M1025.7 306.3V317.5M1026.0 307.9V316.2M1026.4 305.8V313.6M1026.8 304.0V314.1M1027.2 305.1V314.8M1027.6 293.4V316.4M1028.0 286.1V309.0M1028.4 287.7V301.8M1028.8 295.5V312.5M1029.1 299.8V311.9M1029.5 304.2V312.2M1029.9 303.6V310.9M1030.3 301.4V308.5M1030.7 300.4V309.9M1031.1 301.2V315.5M1031.5 304.9V317.1M1031.9 304.7V316.3M1032.2 306.5V318.2M1032.6 312.0V320.7M1033.0 313.7V323.3M1033.4 320.1V324.4M1033.8 313.8V324.7M1034.2 316.4V322.8M1034.6 313.1V320.8M1035.0 309.7V319.1M1035.3 310.1V321.1M1035.7 309.3V317.9M1036.1 306.0V313.8M1036.5 302.6V314.2M1036.9 303.3V312.8M1037.3 305.4V315.1M1037.7 309.3V319.4M1038.1 312.6V322.3M1038.4 314.4V320.7M1038.8 315.4V322.4M1039.2 318.1V325.5M1039.6 319.3V326.0M1040.0 320.6V328.0M1040.4 317.2V328.9M1040.8 319.2V330.8M1041.1 326.4V332.9M1041.5 328.8V334.9M1041.9 327.5V334.7M1042.3 328.3V334.9M1042.7 328.7V338.2M1043.1 330.0V338.0M1043.5 329.6V339.8M1043.9 330.0V341.0M1044.2 333.1V340.5M1044.6 332.6V341.0M1045.0 335.2V341.2M1045.4 335.7V342.0M1045.8 336.3V343.9M1046.2 334.5V343.6M1046.6 335.4V341.4M1047.0 335.1V345.2M1047.3 335.5V346.6M1047.7 336.7V345.6M1048.1 338.6V346.4M1048.5 342.7V347.5M1048.9 336.4V347.0M1049.3 336.5V345.7M1049.7 338.9V344.4M1050.1 333.3V343.1M1050.4 331.5V341.0M1050.8 329.2V340.2M1051.2 330.7V338.1M1051.6 328.4V340.2M1052.0 327.8V338.1M1052.4 326.3V333.5M1052.8 324.6V329.1M1053.2 322.8V333.2M1053.5 322.3V325.5M1053.9 320.0V327.8M1054.3 320.6V325.6M1054.7 319.5V325.0M1055.1 314.5V324.8M1055.5 313.6V325.2M1055.9 314.7V325.0M1056.3 312.3V323.4M1056.6 310.5V319.5M1057.0 310.2V318.3M1057.4 311.8V321.4M1057.8 312.6V317.8M1058.2 308.9V319.0M1058.6 308.5V317.7M1059.0 308.1V317.1M1059.3 308.6V317.6M1059.7 307.9V316.8M1060.1 306.9V315.8M1060.5 308.1V314.7M1060.9 305.4V313.2M1061.3 304.9V314.3M1061.7 308.7V314.8M1062.1 303.6V314.2M1062.4 298.4V311.5M1062.8 300.2V312.4M1063.2 298.6V305.8M1063.6 295.9V303.2M1064.0 293.1V298.9M1064.4 292.1V296.5M1064.8 291.6V298.2M1065.2 295.2V308.2M1065.5 296.1V305.8M1065.9 299.2V304.6M1066.3 300.2V305.5M1066.7 297.6V306.2M1067.1 296.8V307.7M1067.5 297.6V306.9M1067.9 297.4V307.3M1068.3 296.9V309.1M1068.6 298.2V310.0M1069.0 303.3V309.8M1069.4 301.2V310.5M1069.8 302.7V309.4M1070.2 302.9V313.9M1070.6 303.0V310.0M1071.0 304.1V311.1M1071.4 306.6V313.9M1071.7 309.2V320.6M1072.1 311.8V324.8M1072.5 314.4V325.9M1072.9 317.0V326.1M1073.3 318.1V327.5M1073.7 320.3V332.3M1074.1 325.1V333.4M1074.5 328.8V336.0M1074.8 330.0V337.9M1075.2 331.5V341.2M1075.6 335.5V343.5M1076.0 339.1V349.1M1076.4 341.3V351.5M1076.8 341.0V352.8M1077.2 348.1V355.4M1077.6 345.7V358.6M1077.9 355.1V361.8M1078.3 354.5V362.7M1078.7 359.1V363.0M1079.1 353.9V363.3M1079.5 355.7V363.5M1079.9 355.5V363.7M1080.3 349.5V363.3M1080.6 341.2V357.2M1081.0 338.5V351.7M1081.4 336.7V347.4M1081.8 336.0V345.9M1082.2 332.9V342.8M1082.6 330.9V341.7M1083.0 327.1V334.5M1083.4 324.1V338.2M1083.7 320.2V334.0M1084.1 316.3V329.4M1084.5 314.8V322.7M1084.9 314.5V322.9M1085.3 314.3V320.8M1085.7 314.0V323.4M1086.1 313.9V320.0M1086.5 313.8V325.2M1086.8 317.1V325.7M1087.2 320.6V331.3M1087.6 324.2V333.0M1088.0 327.8V336.0M1088.4 331.1V340.3M1088.8 335.0V345.4M1089.2 338.6V350.5M1089.6 343.1V358.2M1089.9 350.2V362.2M1090.3 352.6V362.3M1090.7 355.2V361.7M1091.1 353.7V361.0M1091.5 349.9V360.4M1091.9 345.0V357.4M1092.3 334.6V350.7M1092.7 329.3V343.9M1093.0 331.5V341.3M1093.4 328.5V339.5M1093.8 322.5V338.2M1094.2 313.6V329.0M1094.6 304.3V323.0M1095.0 300.6V315.5M1095.4 301.8V311.9M1095.8 306.9V319.0M1096.1 308.1V318.3M1096.5 308.8V319.7M1096.9 302.5V317.6M1097.3 302.8V312.4M1097.7 295.3V307.3M1098.1 294.0V303.5M1098.5 290.7V301.1M1098.8 290.2V300.6M1099.2 290.0V302.1M1099.6 286.4V295.9M1100.0 282.6V293.3M1100.4 278.7V287.7M1100.8 275.1V282.9M1101.2 275.6V286.4M1101.6 277.6V284.5M1101.9 278.8V286.4M1102.3 280.1V286.8M1102.7 279.8V287.4M1103.1 274.1V283.7M1103.5 267.6V279.9M1103.9 268.7V276.5M1104.3 268.5V272.7M1104.7 264.6V271.8M1105.0 266.0V271.1M1105.4 255.7V270.5M1105.8 253.3V268.9M1106.2 250.7V266.8M1106.6 248.9V261.6M1107.0 247.6V254.9M1107.4 244.7V254.6M1107.8 242.8V251.7M1108.1 238.3V249.4M1108.5 234.2V246.5M1108.9 233.9V241.4M1109.3 232.5V239.0M1109.7 226.1V236.5M1110.1 224.5V234.1M1110.5 221.0V229.5M1110.9 217.6V229.5M1111.2 216.4V224.8M1111.6 213.7V220.6M1112.0 211.6V223.5M1112.4 209.5V219.1M1112.8 208.3V218.3M1113.2 207.0V211.4M1113.6 205.1V217.5M1114.0 202.5V209.7M1114.3 200.4V211.6M1114.7 197.9V209.8M1115.1 195.7V203.7M1115.5 197.0V205.9M1115.9 194.4V209.0M1116.3 200.9V209.5M1116.7 190.5V206.7M1117.0 181.0V199.6M1117.4 175.2V192.5M1117.8 169.9V185.4M1118.2 162.4V177.7M1118.6 157.0V175.9M1119.0 148.3V166.3M1119.4 138.6V154.6M1119.8 132.9V146.9M1120.1 129.6V139.2M1120.5 126.3V138.4M1120.9 123.3V137.5M1121.3 123.9V140.9M1121.7 129.3V154.3M1122.1 141.6V166.4M1122.5 155.5V174.8M1122.9 168.1V186.3M1123.2 170.5V247.7M1123.6 228.4V247.0M1124.0 226.3V239.2M1124.4 215.8V231.5M1124.8 214.5V224.4M1125.2 213.0V220.5M1125.6 207.0V216.6M1126.0 203.1V213.3M1126.3 199.2V210.4M1126.7 183.3V216.4M1127.1 175.5V192.2M1127.5 167.7V180.3M1127.9 165.2V178.4M1128.3 162.7V176.6M1128.7 161.8V170.1M1129.1 163.7V187.2M1129.4 168.0V184.1M1129.8 166.4V181.9M1130.2 168.9V176.3M1130.6 164.9V176.4M1131.0 158.9V177.4M1131.4 147.6V173.8M1131.8 147.8V163.9M1132.2 134.5V153.9M1132.5 125.0V153.0M1132.9 109.3V141.9M1133.3 102.8V125.3M1133.7 99.5V114.0M1134.1 99.4V112.0M1134.5 99.6V110.9M1134.9 99.8V113.1M1135.3 100.6V125.3M1135.6 107.3V122.9M1136.0 107.7V123.6M1136.4 109.0V125.3M1136.8 113.2V136.6M1137.2 121.5V136.8M1137.6 119.4V137.3M1138.0 123.1V135.6M1138.3 122.1V141.3M1138.7 126.0V144.3M1139.1 137.2V153.3M1139.5 139.7V162.3M1139.9 137.1V160.5M1140.3 124.4V152.5M1140.7 128.5V145.6M1141.1 131.6V149.3M1141.4 135.4V149.3M1141.8 138.0V152.6M1142.2 135.5V153.6M1142.6 135.9V143.2M1143.0 137.1V145.5M1143.4 140.2V157.0M1143.8 140.8V153.3M1144.2 136.0V157.9M1144.5 150.9V162.8M1144.9 153.0V162.2M1145.3 146.5V160.1M1145.7 147.0V159.8M1146.1 151.6V159.0M1146.5 152.6V162.5M1146.9 158.5V161.2M1147.3 158.8V160.8M1147.6 158.3V159.7" fill="none" stroke="#404040" stroke-width="1.25"/>
<line x1="5.25" y1="485.4" x2="974" y2="483.6" stroke="#ff0000" stroke-width="3.05" stroke-dasharray="8.8 3.2"/>
<g fill="#333" shape-rendering="crispEdges">
<rect x="12" y="859" width="1210" height="1"/>
<rect x="12" y="859" width="1" height="4"/>
<rect x="59" y="859" width="1" height="4"/>
<rect x="105" y="859" width="1" height="4"/>
<rect x="152" y="859" width="1" height="4"/>
<rect x="198" y="859" width="1" height="4"/>
<rect x="245" y="859" width="1" height="4"/>
<rect x="291" y="859" width="1" height="4"/>
<rect x="338" y="859" width="1" height="4"/>
<rect x="384" y="859" width="1" height="4"/>
<rect x="431" y="859" width="1" height="4"/>
<rect x="477" y="859" width="1" height="4"/>
<rect x="524" y="859" width="1" height="4"/>
<rect x="570" y="859" width="1" height="4"/>
<rect x="617" y="859" width="1" height="4"/>
<rect x="663" y="859" width="1" height="4"/>
<rect x="710" y="859" width="1" height="4"/>
<rect x="756" y="859" width="1" height="4"/>
<rect x="803" y="859" width="1" height="4"/>
<rect x="849" y="859" width="1" height="4"/>
<rect x="896" y="859" width="1" height="4"/>
<rect x="942" y="859" width="1" height="4"/>
<rect x="989" y="859" width="1" height="4"/>
<rect x="1035" y="859" width="1" height="4"/>
<rect x="1082" y="859" width="1" height="4"/>
<rect x="1128" y="859" width="1" height="4"/>
<rect x="1175" y="859" width="1" height="4"/>
<rect x="1221" y="859" width="1" height="4"/>
</g>
<g font-size="10.0" text-anchor="middle" fill="#000" style="text-rendering:geometricPrecision;font-family:'Liberation Sans', sans-serif">
<text transform="translate(12.30,877.2) scale(1.0,1)">1770</text>
<text transform="translate(58.80,877.2) scale(1.0,1)">1780</text>
<text transform="translate(105.30,877.2) scale(1.0,1)">1790</text>
<text transform="translate(151.80,877.2) scale(1.0,1)">1800</text>
<text transform="translate(198.30,877.2) scale(1.0,1)">1810</text>
<text transform="translate(244.80,877.2) scale(1.0,1)">1820</text>
<text transform="translate(291.30,877.2) scale(1.0,1)">1830</text>
<text transform="translate(337.80,877.2) scale(1.0,1)">1840</text>
<text transform="translate(384.30,877.2) scale(1.0,1)">1850</text>
<text transform="translate(430.80,877.2) scale(1.0,1)">1860</text>
<text transform="translate(477.30,877.2) scale(1.0,1)">1870</text>
<text transform="translate(523.80,877.2) scale(1.0,1)">1880</text>
<text transform="translate(570.30,877.2) scale(1.0,1)">1890</text>
<text transform="translate(616.80,877.2) scale(1.0,1)">1900</text>
<text transform="translate(663.30,877.2) scale(1.0,1)">1910</text>
<text transform="translate(709.80,877.2) scale(1.0,1)">1920</text>
<text transform="translate(756.30,877.2) scale(1.0,1)">1930</text>
<text transform="translate(802.80,877.2) scale(1.0,1)">1940</text>
<text transform="translate(849.30,877.2) scale(1.0,1)">1950</text>
<text transform="translate(895.80,877.2) scale(1.0,1)">1960</text>
<text transform="translate(942.30,877.2) scale(1.0,1)">1970</text>
<text transform="translate(988.80,877.2) scale(1.0,1)">1980</text>
<text transform="translate(1035.30,877.2) scale(1.0,1)">1990</text>
<text transform="translate(1081.80,877.2) scale(1.0,1)">2000</text>
<text transform="translate(1128.30,877.2) scale(1.0,1)">2010</text>
<text transform="translate(1174.80,877.2) scale(1.0,1)">2020</text>
<text transform="translate(1221.30,877.2) scale(1.0,1)">2030</text>
<text transform="translate(40.3,712.25) scale(0.87,1)">33.9</text><text transform="translate(40.3,723.0) scale(0.87,1)">1775</text>
<text transform="translate(60,460.0) scale(0.87,1)">1779</text><text transform="translate(60,470.0) scale(0.87,1)">102.2</text>
<text transform="translate(117,686.25) scale(0.87,1)">38.4</text><text transform="translate(117,697.0) scale(0.87,1)">1792</text>
<text transform="translate(195.5,623.75) scale(0.87,1)">52.0</text><text transform="translate(195.5,635.0) scale(0.87,1)">1808</text>
<text transform="translate(224.2,501.25) scale(0.87,1)">1814</text><text transform="translate(224.2,512.0) scale(0.87,1)">82.3</text>
<text transform="translate(252.7,650.0) scale(0.87,1)">46.3</text><text transform="translate(252.7,661.25) scale(0.87,1)">1821</text>
<text transform="translate(318,673.75) scale(0.87,1)">40.7</text><text transform="translate(318,683.75) scale(0.87,1)">1834</text>
<text transform="translate(330.5,595.0) scale(0.87,1)">1837</text><text transform="translate(330.5,606.25) scale(0.87,1)">52.0</text>
<text transform="translate(358,713.0) scale(0.87,1)">33.9</text><text transform="translate(358,723.75) scale(0.87,1)">1843</text>
<text transform="translate(421,596.25) scale(0.87,1)">3/1857</text><text transform="translate(421,607.0) scale(0.87,1)">51.5</text>
<text transform="translate(443.3,693.0) scale(0.87,1)">37.1</text><text transform="translate(443.3,703.0) scale(0.87,1)">7/1861</text>
<text transform="translate(456.25,461.25) scale(0.87,1)">8/1864</text><text transform="translate(456.25,472.0) scale(0.87,1)">100.7</text>
<text transform="translate(521.6,688.0) scale(0.87,1)">38.0</text><text transform="translate(521.6,699.25) scale(0.87,1)">6/1879</text>
<text transform="translate(538.9,602.0) scale(0.87,1)">6/1882</text><text transform="translate(538.9,613.0) scale(0.87,1)">49.7</text>
<text transform="translate(556.25,702.0) scale(0.87,1)">35.4</text><text transform="translate(556.25,712.0) scale(0.87,1)">6/1886</text>
<text transform="translate(609.4,740.0) scale(0.87,1)">29.5</text><text transform="translate(609.4,750.25) scale(0.87,1)">6/1897</text>
<text transform="translate(664.6,609.9) scale(0.87,1)">4/1910</text><text transform="translate(664.6,620.4) scale(0.87,1)">47.9</text>
<text transform="translate(671.75,673.75) scale(0.87,1)">43.3</text><text transform="translate(671.75,683.75) scale(0.87,1)">10/1914</text>
<text transform="translate(713.3,441.25) scale(0.87,1)">7/1920</text><text transform="translate(713.3,452.0) scale(0.87,1)">111.2</text>
<text transform="translate(719.4,618.0) scale(0.87,1)">54.4</text><text transform="translate(719.4,628.75) scale(0.87,1)">6/1921</text>
<text transform="translate(739.8,528.0) scale(0.87,1)">7/1925</text><text transform="translate(739.8,538.25) scale(0.87,1)">73.0</text>
<text transform="translate(772.2,720.1) scale(0.87,1)">32.4</text><text transform="translate(772.2,730.1) scale(0.87,1)">2/1933</text>
<text transform="translate(791.25,564.25) scale(0.87,1)">3/1937</text><text transform="translate(791.25,575.0) scale(0.87,1)">60.3</text>
<text transform="translate(804.4,658.25) scale(0.87,1)">44.5</text><text transform="translate(804.4,668.25) scale(0.87,1)">8/1939</text>
<text transform="translate(855,398.75) scale(0.87,1)">2/1951</text><text transform="translate(855,409.25) scale(0.87,1)">138.3</text>
<text transform="translate(900.4,503.75) scale(0.87,1)">96.5</text><text transform="translate(900.4,514.25) scale(0.87,1)">12/1960</text>
<text transform="translate(937.85,505.0) scale(0.87,1)">95.2</text><text transform="translate(937.85,515.75) scale(0.87,1)">8/1968</text>
<text transform="translate(962.6,293.0) scale(0.87,1)">2/1974</text><text transform="translate(962.6,303.25) scale(0.87,1)">237.8</text>
<text transform="translate(985.2,374.25) scale(0.87,1)">184.7</text><text transform="translate(985.2,384.25) scale(0.87,1)">8/1977</text>
<text transform="translate(996.8,221.7) scale(0.87,1)">11/1980</text><text transform="translate(996.8,232.9) scale(0.87,1)">337.6</text>
<text transform="translate(1022.2,360.75) scale(0.87,1)">196.2</text><text transform="translate(1022.2,370.75) scale(0.87,1)">7/1986</text>
<text transform="translate(1027.6,267.0) scale(0.87,1)">6/1988</text><text transform="translate(1027.6,278.0) scale(0.87,1)">272.2</text>
<text transform="translate(1068.1,272.0) scale(0.87,1)">4/1996</text><text transform="translate(1068.1,283.0) scale(0.87,1)">263.8</text>
<text transform="translate(1073,375.0) scale(0.87,1)">182.7</text><text transform="translate(1073,385.75) scale(0.87,1)">7/1999</text>
<text transform="translate(1106.6,375.75) scale(0.87,1)">182.8</text><text transform="translate(1106.6,386.25) scale(0.87,1)">10/2001</text>
<text transform="translate(1113.7,105.75) scale(0.87,1)">7/2008</text><text transform="translate(1113.7,116.25) scale(0.87,1)">615.0</text>
<text transform="translate(1129.25,263.0) scale(0.87,1)">322.5</text><text transform="translate(1129.25,273.75) scale(0.87,1)">12/2008</text>
<text transform="translate(1136.6,81.25) scale(0.87,1)">4/2011</text><text transform="translate(1136.6,92.0) scale(0.87,1)">691.1</text>
<text transform="translate(1148.6,178.0) scale(0.87,1)">500.0</text><text transform="translate(1148.6,188.75) scale(0.87,1)">6/2013</text>
</g>
<g fill="#000" style="font-family:'Liberation Sans', 'Noto Sans CJK SC', sans-serif">
<text transform="translate(4.39,41.07) scale(1.006,1.006)" font-size="32" style="font-weight:700;">大宗商品价格</text>
<text transform="translate(5.59,72.10) scale(1.113,1.113)" font-size="21.33" style="font-weight:700;">1777-2013</text>
<text transform="translate(118.01,71.33) scale(0.986,0.947)" font-size="21.33" style="font-weight:700;">年连续商品指数</text>
<text transform="translate(259.90,71.60) scale(1.000,1.000)" font-size="21" style="font-weight:700;">（</text>
<text transform="translate(286.42,71.31) scale(0.984,0.945)" font-size="21.33" style="font-weight:700;">延伸后</text>
<text transform="translate(355.20,71.60) scale(1.000,1.000)" font-size="21" style="font-weight:700;">）</text>
<text transform="translate(5.67,103.76) scale(1.030,1.030)" font-size="18.67" style="font-weight:700;">每月高低范围条形图</text>
<text transform="translate(180.90,104.50) scale(1.000,1.000)" font-size="18.67" style="font-weight:700;">，</text>
<text transform="translate(196.67,103.75) scale(1.028,1.028)" font-size="18.67" style="font-weight:700;">对数尺度</text>
<text transform="translate(31.06,406.82) scale(1.041,0.895)" font-size="14.67" style="font-weight:700;">革命</text>
<text transform="translate(66.10,408.25) scale(1.000,1.000)" font-size="14.67" style="font-weight:700;">：</text>
<text transform="translate(32.10,431.65) scale(1.005,0.864)" font-size="14.67" style="font-weight:700;">通胀</text>
<text transform="translate(64.25,432.45) scale(1.000,1.000)" font-size="14.67" style="font-weight:700;">，</text>
<text transform="translate(75.86,431.80) scale(1.035,0.890)" font-size="14.67" style="font-weight:700;">大陆货币体系崩溃</text>
<text transform="translate(172.67,477.79) scale(1.082,1.028)" font-size="14.67" style="font-weight:700;">1812</text>
<text transform="translate(207.66,477.21) scale(1.039,0.893)" font-size="14.67" style="font-weight:700;">年美英战争</text>
<text transform="translate(393.99,437.91) scale(1.006,0.865)" font-size="14.67" style="font-weight:700;">美国南北战争</text>
<text transform="translate(376.25,515.53) scale(1.031,0.886)" font-size="14.67" style="font-weight:700;">林肯绿币</text>
<text transform="translate(349.30,530.25) scale(1.000,1.000)" font-size="13.2" style="font-weight:700;">（</text>
<text transform="translate(366.54,528.93) scale(0.963,0.915)" font-size="14.67" style="font-weight:700;">Greenback</text>
<text transform="translate(442.00,530.25) scale(1.000,1.000)" font-size="13.2" style="font-weight:700;">）</text>
<text transform="translate(582.22,515.01) scale(1.027,0.883)" font-size="14.67" style="font-weight:700;">第一次世界大战</text>
<text transform="translate(353.94,625.66) scale(1.060,0.911)" font-size="14.67" style="font-weight:700;">墨西哥</text>
<text transform="translate(354.46,650.80) scale(1.036,0.891)" font-size="14.67" style="font-weight:700;">战争</text>
<text transform="translate(375.90,700.90) scale(1.105,1.050)" font-size="14.67" style="font-weight:700;">1848</text>
<text transform="translate(411.50,701.85) scale(1.000,1.000)" font-size="13.8" style="font-weight:700;">年</text>
<text transform="translate(375.20,725.13) scale(1.053,0.905)" font-size="14.67" style="font-weight:700;">加州淘金</text>
<text transform="translate(321.47,748.77) scale(1.029,0.885)" font-size="14.67" style="font-weight:700;">饥饿四十年代</text>
<text transform="translate(305.60,767.00) scale(1.000,1.000)" font-size="13.2" style="font-weight:700;">（</text>
<text transform="translate(322.80,765.62) scale(0.947,0.899)" font-size="14.67" style="font-weight:700;">Hungry Forties</text>
<text transform="translate(424.75,767.00) scale(1.000,1.000)" font-size="13.2" style="font-weight:700;">）</text>
<text transform="translate(583.22,649.28) scale(1.031,0.886)" font-size="14.67" style="font-weight:700;">美西战争</text>
<text transform="translate(655.46,709.17) scale(1.035,0.890)" font-size="14.67" style="font-weight:700;">黄金流入</text>
<text transform="translate(563.42,774.28) scale(1.080,1.026)" font-size="14.67" style="font-weight:700;">65</text>
<text transform="translate(581.46,773.57) scale(1.041,0.895)" font-size="14.67" style="font-weight:700;">个月长期萧条</text>
<text transform="translate(750.18,766.09) scale(1.071,0.921)" font-size="14.67" style="font-weight:700;">大萧条</text>
<text transform="translate(765.97,518.88) scale(1.026,0.883)" font-size="14.67" style="font-weight:700;">第二次世</text>
<text transform="translate(765.98,544.24) scale(1.023,0.880)" font-size="14.67" style="font-weight:700;">界大战</text>
<text transform="translate(93.95,734.26) scale(1.054,0.906)" font-size="14.67" style="font-weight:700;">萧条</text>
<text transform="translate(803.75,287.27) scale(1.056,0.908)" font-size="14.67" style="font-weight:700;">越南战争</text>
<text transform="translate(866.50,287.70) scale(1.000,1.000)" font-size="14.67" style="font-weight:700;">，</text>
<text transform="translate(880.00,287.07) scale(1.013,0.871)" font-size="14.67" style="font-weight:700;">石油冲击</text>
<text transform="translate(917.50,250.75) scale(1.026,0.882)" font-size="14.67" style="font-weight:700;">石油冲击</text>
<text transform="translate(960.93,192.97) scale(1.071,0.921)" font-size="14.67" style="font-weight:700;">滞胀</text>
<text transform="translate(1018.95,171.00) scale(1.047,0.900)" font-size="14.67" style="font-weight:700;">新兴市场需求</text>
<text transform="translate(1077.72,418.01) scale(1.027,0.883)" font-size="14.67" style="font-weight:700;">衰退</text>
<text transform="translate(6.02,903.16) scale(0.984,0.984)" font-size="16" style="font-weight:700;font-style:italic;">图表来自</text>
<text transform="translate(70.17,903.17) scale(1.083,1.083)" font-size="16" style="font-weight:700;font-style:italic;">@Macro Tourist</text>
<text transform="translate(250.05,903.36) scale(0.977,0.977)" font-size="16" style="font-weight:700;font-style:italic;">中文注解</text>
<text transform="translate(318.25,903.25) scale(1.000,1.000)" font-size="16" style="font-weight:700;font-style:italic;">：</text>
<text transform="translate(330.25,903.52) scale(1.003,1.003)" font-size="16" style="font-weight:700;font-style:italic;">华尔街见闻</text>
</g>
</svg></body></html>
